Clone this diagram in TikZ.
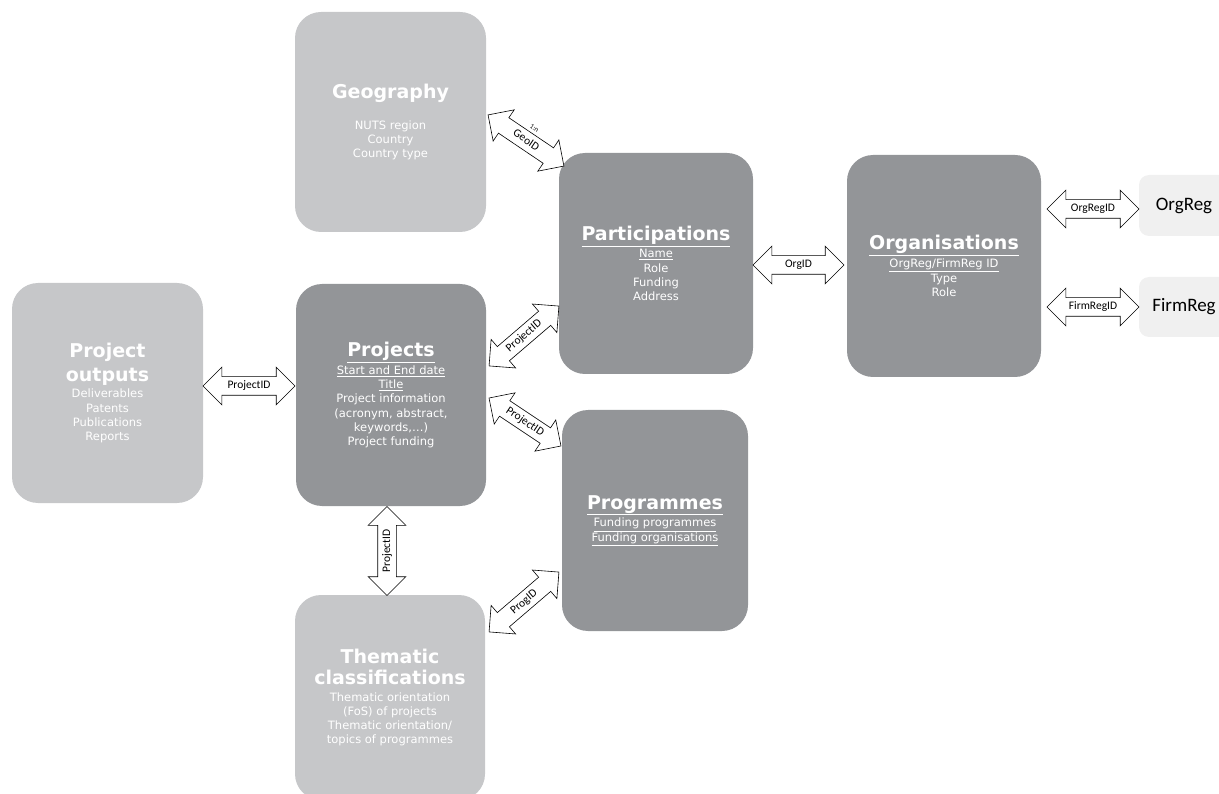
\documentclass[tikz,border=0pt]{standalone}
\usepackage{fontspec}
\setmainfont{DejaVu Sans}
\newfontfamily\lblfont{Carlito}
\usetikzlibrary{shapes.arrows,calc}
\definecolor{dk}{RGB}{147,149,152}
\definecolor{lt}{RGB}{198,199,201}
\definecolor{rg}{RGB}{240,240,240}
\newcommand{\hd}[1]{{\fontsize{19}{23}\selectfont\bfseries #1}}

\begin{document}
\begin{tikzpicture}[
  box/.style={rounded corners=26pt, text=white, align=center, inner sep=0pt,
    font=\fontsize{11.5}{14.3}\selectfont},
  dkbox/.style={box, fill=dk},
  ltbox/.style={box, fill=lt},
  regbox/.style={rounded corners=10pt, fill=rg, text=black, minimum width=90pt,
    font=\lblfont\fontsize{19}{22}\selectfont},
  link/.style={double arrow, draw=black, fill=white, line width=0.6pt,
    double arrow head extend=9.5pt, minimum height=92pt, inner xsep=2pt,
    inner ysep=3.5pt, text height=8.5pt, text depth=2.5pt,
    font=\lblfont\fontsize{11.5}{13}\selectfont}]
\useasboundingbox (0pt,0pt) rectangle (1219pt,-794pt);
\node (geo) [ltbox, minimum width=191pt, minimum height=220pt] at (390.5pt, -122pt)
  {\hd{Geography}\\[17pt]NUTS region\\Country\\Country type};
\node (part) [dkbox, minimum width=194pt, minimum height=221pt] at (656pt, -263.5pt)
  {\hd{\underline{Participations}}\\[2pt]\underline{Name}\\Role\\Funding\\Address};
\node (org) [dkbox, minimum width=194pt, minimum height=222pt] at (944pt, -266pt)
  {\hd{\underline{Organisations}}\\[2pt]\underline{OrgReg/FirmReg ID}\\Type\\Role};
\node (orgreg) [regbox, minimum height=61pt] at (1184pt, -205.5pt) {OrgReg};
\node (firmreg) [regbox, minimum height=60pt] at (1184pt, -307pt) {FirmReg};
\node (outputs) [ltbox, minimum width=191pt, minimum height=220pt] at (107.5pt, -393pt)
  {\hd{Project}\\[6pt]\hd{outputs}\\[2pt]Deliverables\\Patents\\Publications\\Reports};
\node (projects) [dkbox, minimum width=190pt, minimum height=222pt] at (391pt, -395pt)
  {\hd{\underline{Projects}}\\[2pt]\underline{Start and End date}\\\underline{Title}\\Project information\\(acronym, abstract,\\keywords,\dots)\\Project funding};
\node (progs) [dkbox, minimum width=186pt, minimum height=221pt] at (655pt, -520.5pt)
  {\hd{\underline{Programmes}}\\[2pt]\underline{Funding programmes}\\\underline{Funding organisations}};
\node (theme) [ltbox, minimum width=190pt, minimum height=205pt] at (390pt, -697.5pt)
  {\hd{Thematic}\\[6pt]\hd{classifications}\\[2pt]Thematic orientation\\(FoS) of projects\\Thematic orientation/\\topics of programmes};
\node (geoid) [link, rotate=-34, minimum height=91.5pt] at (526pt, -140.5pt) {GeoID};
\node (geon) [rotate=-34, inner sep=0pt, font=\lblfont\fontsize{7}{8}\selectfont] at ($(geoid)+(56:15pt)$) {1:n};
\node (pidpart) [link, rotate=40.6] at (524pt, -336pt) {ProjectID};
\node (pidprog) [link, rotate=-33.7, minimum height=86.5pt] at (525pt, -422pt) {ProjectID};
\node (progid) [link, rotate=40.6] at (524pt, -602pt) {ProgID};
\node (pidtheme) [link, rotate=90, minimum height=89pt] at (387pt, -551pt) {ProjectID};
\node (pidout) [link] at (249pt, -386pt) {ProjectID};
\node (orgid) [link, minimum height=91pt] at (798.5pt, -265pt) {OrgID};
\node (orgregid) [link] at (1093pt, -209pt) {OrgRegID};
\node (firmregid) [link] at (1093pt, -307pt) {FirmRegID};
\end{tikzpicture}
\end{document}
